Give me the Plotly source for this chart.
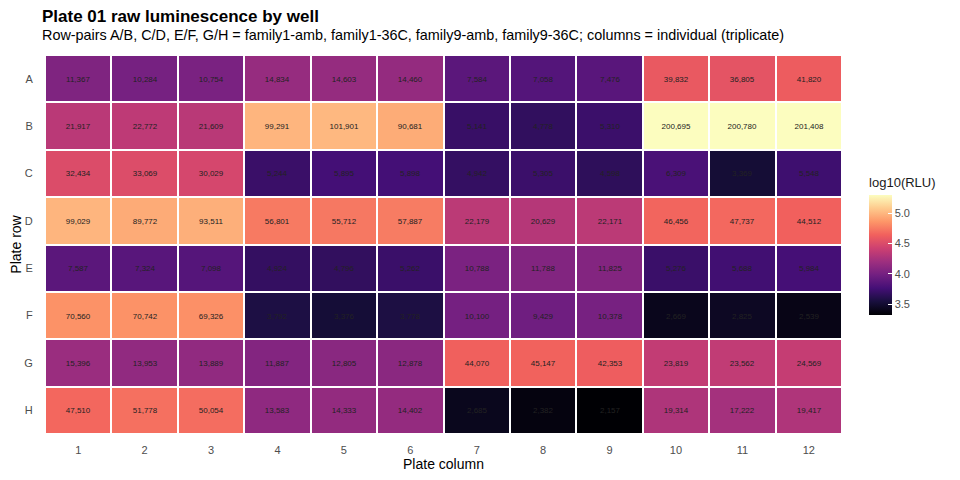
import numpy as np
import plotly.graph_objects as go

rows = ["A", "B", "C", "D", "E", "F", "G", "H"]
columns = [str(c) for c in range(1, 13)]

# raw RLU per well, read row by row (columns 1..12)
row_A = [11367, 10284, 10754, 14834, 14603, 14460, 7584, 7058, 7476, 39832, 36805, 41820]
row_B = [21917, 22772, 21609, 99291, 101901, 90681, 5141, 4778, 5310, 200695, 200780, 201408]
row_C = [32434, 33069, 30029, 5244, 5895, 5898, 4942, 5305, 4598, 6309, 3369, 5548]
row_D = [99029, 89772, 93511, 56801, 55712, 57887, 22179, 20629, 22171, 46456, 47737, 44512]
row_E = [7587, 7324, 7098, 4924, 4796, 5262, 10788, 11788, 11825, 5276, 5688, 5984]
row_F = [70560, 70742, 69326, 3792, 3376, 3778, 10100, 9429, 10378, 2669, 2825, 2539]
row_G = [15396, 13953, 13889, 11887, 12805, 12878, 44070, 45147, 42353, 23819, 23562, 24569]
row_H = [47510, 51778, 50054, 13583, 14333, 14402, 2685, 2382, 2157, 19314, 17222, 19417]

rlu = np.array([row_A, row_B, row_C, row_D, row_E, row_F, row_G, row_H], dtype=float)
labels = [[f"{int(v):,}" for v in r] for r in rlu]

magma = ['#000004', '#180f3d', '#440f76', '#721f81', '#9e2f7f',
         '#cd4071', '#f1605d', '#fd9668', '#feca8d', '#fcfdbf']
scale = [[i / (len(magma) - 1), c] for i, c in enumerate(magma)]

fig = go.Figure(go.Heatmap(
    z=np.log10(rlu),
    x=columns,
    y=rows,
    text=labels,
    texttemplate="%{text}",
    textfont=dict(size=8, color="#222222", family="Liberation Sans"),
    colorscale=scale,
    xgap=2,
    ygap=2,
    hovertemplate="%{y}%{x}: %{text}<extra></extra>",
    colorbar=dict(
        title=dict(text="log10(RLU)", side="top", font=dict(size=13, color="#1a1a1a")),
        tickvals=[3.5, 4.0, 4.5, 5.0],
        ticktext=["3.5", "4.0", "4.5", "5.0"],
        ticks="inside",
        tickcolor="white",
        ticklen=4,
        tickfont=dict(size=11, color="#4d4d4d"),
        thickness=23,
        lenmode="pixels",
        len=140,
        x=1.034,
        xanchor="left",
        y=0.5,
        yanchor="middle",
        outlinewidth=0,
        xpad=0,
        ypad=0,
    ),
))

# the page body adds an 8px offset, so margins are compensated
fig.update_layout(
    width=960,
    height=480,
    margin=dict(l=37, r=126, t=47, b=54, autoexpand=False),
    plot_bgcolor="white",
    paper_bgcolor="white",
    font=dict(family="Liberation Sans", color="#1a1a1a"),
    annotations=[
        dict(text="<b>Plate 01 raw luminescence by well</b>", xref="paper", yref="paper",
             x=-0.006, y=1.102, xanchor="left", yanchor="middle", showarrow=False,
             font=dict(size=17, color="black")),
        dict(text="Row-pairs A/B, C/D, E/F, G/H = family1-amb, family1-36C, family9-amb, "
                  "family9-36C; columns = individual (triplicate)",
             xref="paper", yref="paper", x=-0.006, y=1.053, xanchor="left",
             yanchor="middle", showarrow=False, font=dict(size=14.4, color="black")),
    ],
)

fig.update_xaxes(
    title=dict(text="Plate column", font=dict(size=14, color="black"), standoff=2),
    tickfont=dict(size=11, color="#4d4d4d"),
    ticks="outside", ticklen=6, tickcolor="rgba(0,0,0,0)",
    showgrid=False, zeroline=False, automargin=False,
)
fig.update_yaxes(
    title=dict(text="Plate row", font=dict(size=14, color="black"), standoff=4),
    tickfont=dict(size=11, color="#4d4d4d"),
    ticks="outside", ticklen=9, tickcolor="rgba(0,0,0,0)",
    autorange="reversed",
    showgrid=False, zeroline=False, automargin=False,
)

fig.write_html("out.html")
